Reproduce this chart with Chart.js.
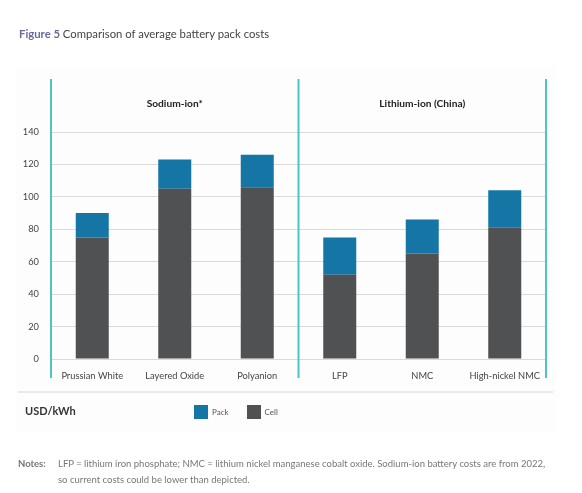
<!DOCTYPE html>
<html>
<head>
<meta charset="utf-8">
<script src="https://cdn.jsdelivr.net/npm/chart.js@4.4.1/dist/chart.umd.min.js"></script>
<style>
  html, body { margin: 0; padding: 0; background: #ffffff; }
  #wrap { position: relative; width: 582px; height: 493px; overflow: hidden; font-family: Lato, "Open Sans", sans-serif; }
  #c { position: absolute; left: 0; top: 0; }
  #title { position: absolute; left: 19px; top: 27px; font-size: 11.3px; color: #444; white-space: nowrap; }
  #title b { color: #6b6a9c; font-weight: 700; }
  #unit { position: absolute; left: 25px; top: 404px; font-size: 11px; font-weight: 700; color: #333; }
  #legend { position: absolute; left: 194px; top: 405px; display: flex; align-items: center; font-size: 8px; color: #555; }
  #legend .it { display: flex; align-items: center; margin-right: 18px; }
  #legend .sw { width: 14px; height: 14px; margin-right: 4px; }
  #notes { position: absolute; left: 18px; top: 456px; font-size: 9.5px; color: #777; line-height: 16px; }
  #notes b { position: absolute; left: 0; top: 0; color: #777; font-weight: 700; }
  #notes div { margin-left: 40px; white-space: nowrap; }
</style>
</head>
<body>
<div id="wrap">
  <canvas id="c" width="582" height="493"></canvas>
  <div id="title"><b>Figure 5</b> Comparison of average battery pack costs</div>
  <div id="unit">USD/kWh</div>
  <div id="legend"></div>
  <div id="notes"><b>Notes:</b><div>LFP = lithium iron phosphate; NMC = lithium nickel manganese cobalt oxide. Sodium-ion battery costs are from 2022,<br>so current costs could be lower than depicted.</div></div>
</div>
<script>
const categories = ['Prussian White', 'Layered Oxide', 'Polyanion', 'LFP', 'NMC', 'High-nickel NMC'];
const groups = ['Sodium-ion*', 'Lithium-ion (China)'];
const groupSizes = [3, 3];
const cellValues = [75, 105, 106, 52, 65, 81];
const packValues = [15, 18, 20, 23, 21, 23];
const yTicks = [0, 20, 40, 60, 80, 100, 120, 140];

const CELL_COLOR = '#505153';
const PACK_COLOR = '#1575a5';
const TEAL = '#4fc4c6';
const FONT = 'Lato, "Open Sans", sans-serif';

const decor = {
  id: 'decor',
  beforeDraw(chart) {
    const ctx = chart.ctx;
    ctx.save();
    ctx.fillStyle = '#fdfdfd';
    ctx.fillRect(16, 66, 540, 367);
    ctx.restore();
  },
  afterDraw(chart) {
    const ctx = chart.ctx;
    const a = chart.chartArea;
    const xs = chart.scales.x;
    ctx.save();
    const seps = [a.left];
    let idx = 0;
    const centers = [];
    groupSizes.forEach((n) => {
      const first = xs.getPixelForTick(idx);
      const last = xs.getPixelForTick(idx + n - 1);
      centers.push((first + last) / 2);
      idx += n;
      if (idx < categories.length) {
        seps.push((xs.getPixelForTick(idx - 1) + xs.getPixelForTick(idx)) / 2);
      }
    });
    seps.push(a.right);
    ctx.strokeStyle = TEAL;
    ctx.lineWidth = 2;
    seps.forEach(x => {
      ctx.beginPath();
      ctx.moveTo(x, a.top - 53);
      ctx.lineTo(x, a.bottom + 19);
      ctx.stroke();
    });
    ctx.fillStyle = '#222';
    ctx.font = 'bold 10.2px ' + FONT;
    ctx.textAlign = 'center';
    ctx.textBaseline = 'middle';
    groups.forEach((g, i) => ctx.fillText(g, centers[i], a.top - 28));
    ctx.strokeStyle = '#d6d6d6';
    ctx.lineWidth = 1;
    ctx.beginPath();
    ctx.moveTo(18, a.bottom + 33);
    ctx.lineTo(553, a.bottom + 33);
    ctx.stroke();
    ctx.restore();
  }
};

const chart = new Chart(document.getElementById('c'), {
  type: 'bar',
  data: {
    labels: categories,
    datasets: [
      { label: 'Cell', data: cellValues, backgroundColor: CELL_COLOR, stack: 's' },
      { label: 'Pack', data: packValues, backgroundColor: PACK_COLOR, stack: 's' }
    ]
  },
  options: {
    responsive: false,
    animation: false,
    devicePixelRatio: 1,
    barPercentage: 0.4,
    categoryPercentage: 1,
    layout: { padding: { left: 0, right: 36, top: 132, bottom: 104 } },
    plugins: { legend: { display: false }, tooltip: { enabled: false } },
    scales: {
      x: {
        stacked: true,
        grid: { display: false, drawTicks: false },
        border: { display: false },
        ticks: { color: '#444', font: { family: FONT, size: 9.3 }, padding: 11, maxRotation: 0, autoSkip: false },
        afterFit(s) { s.height = 30; }
      },
      y: {
        stacked: true,
        min: 0,
        max: 140,
        afterBuildTicks(s) { s.ticks = yTicks.map(v => ({ value: v })); },
        grid: { color: '#dadada', drawTicks: false, lineWidth: 1 },
        border: { display: false },
        ticks: { color: '#444', font: { family: FONT, size: 9.3 }, padding: 12 },
        afterFit(s) { s.width = 51; }
      }
    }
  },
  plugins: [decor]
});

const legendEl = document.getElementById('legend');
chart.data.datasets.slice().reverse().forEach(ds => {
  const it = document.createElement('div');
  it.className = 'it';
  const sw = document.createElement('div');
  sw.className = 'sw';
  sw.style.background = ds.backgroundColor;
  const tx = document.createElement('span');
  tx.textContent = ds.label;
  it.appendChild(sw);
  it.appendChild(tx);
  legendEl.appendChild(it);
});
</script>
</body>
</html>
